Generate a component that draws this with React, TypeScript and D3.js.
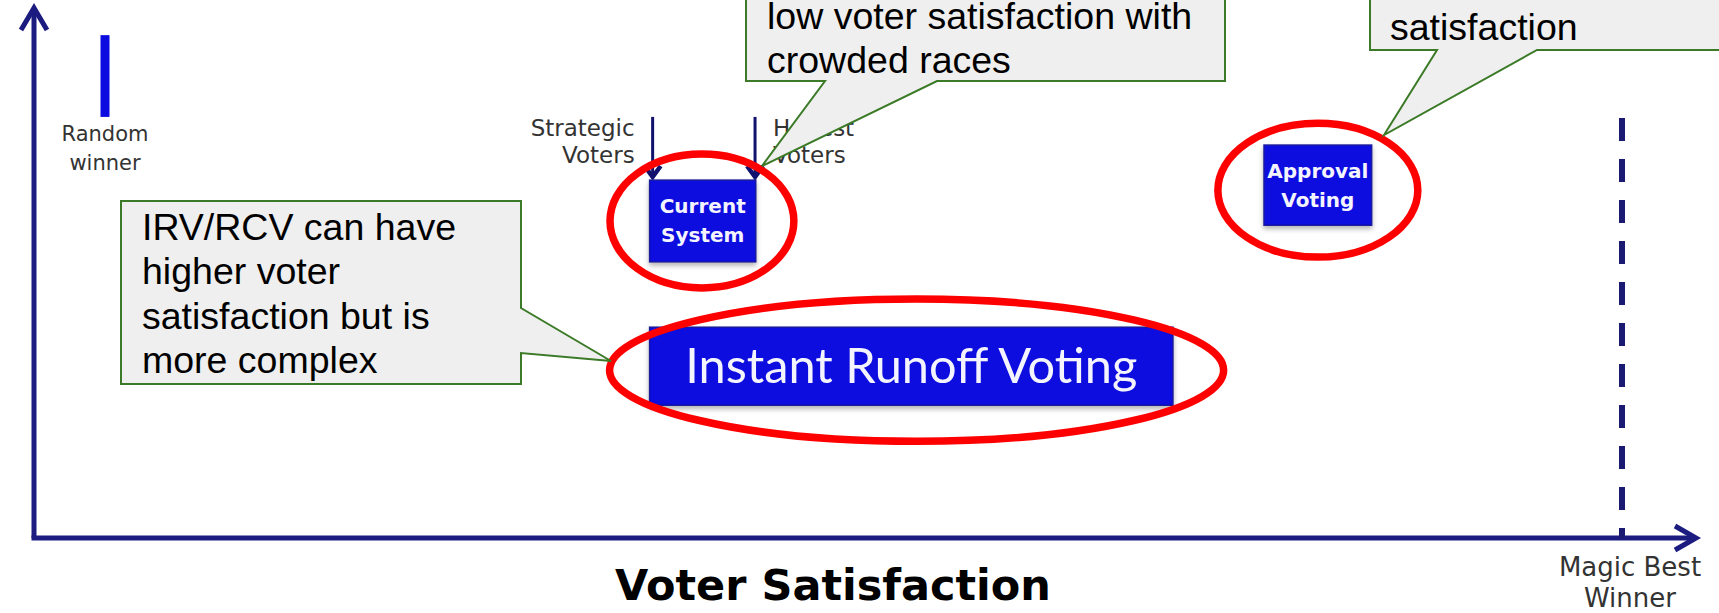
import React from "react";
import * as d3 from "d3";

// ---- data (satisfaction 0 = random winner, 100 = magic best winner; height 0..100) ----
const systemNames = ["Current System", "Instant Runoff Voting", "Approval Voting"];
const systemLabels = [["Current", "System"], ["Instant Runoff Voting"], ["Approval", "Voting"]];
const satLow = [35.9, 35.9, 76.4];
const satHigh = [42.9, 70.4, 83.5];
const rowTop = [67.4, 39.7, 74.0];
const rowBottom = [52.0, 25.0, 58.9];

const circleCx = [39.35, 53.5, 79.95];
const circleRx = [6.06, 20.24, 6.59];
const circleCy = [59.7, 31.6, 65.5];
const circleRy = [12.6, 13.4, 12.6];

const randomWinnerSat = 0;
const randomWinnerSpan = [94.7, 79.3];
const magicBestSat = 100;
const magicBestTop = 79.1;

const voterArrowLabels = [["Strategic", "Voters"], ["Honest", "Voters"]];
const voterArrowSat = [36.1, 42.85];
const voterArrowSpan = [79.3, 67.8];

const calloutText = [
  ["low voter satisfaction with", "crowded races"],
  ["satisfaction"],
  ["IRV/RCV can have", "higher voter", "satisfaction but is", "more complex"],
];

const W = 1719;
const H = 613;

export default function App() {
  const x = d3.scaleLinear().domain([0, 100]).range([105, 1622]);
  const y = d3.scaleLinear().domain([0, 100]).range([538, 7]);

  const navy = "#1b1b80";
  const boxBlue = "#0808e0";
  const red = "#ff0000";
  const green = "#3b7a26";
  const calloutFill = "#efefef";
  const labelFont = "'DejaVu Sans', Verdana, sans-serif";
  const calloutFont = "'Liberation Sans', Arial, sans-serif";

  const axisX0 = 34;
  const axisY0 = y(0);

  // callout shapes (annotation layout)
  const bottomCallout = (x0: number, y0: number, x1: number, y1: number, bx0: number, bx1: number, tx: number, ty: number) =>
    `M${x0},${y0}H${x1}V${y1}H${bx1}L${tx},${ty}L${bx0},${y1}H${x0}Z`;
  const rightCallout = (x0: number, y0: number, x1: number, y1: number, by0: number, by1: number, tx: number, ty: number) =>
    `M${x0},${y0}H${x1}V${by0}L${tx},${ty}L${x1},${by1}V${y1}H${x0}Z`;

  const callouts = [
    { d: bottomCallout(746, -20, 1225, 81, 825, 937, 762, 166), tx: 767, base: 29 },
    { d: bottomCallout(1370, -20, 1740, 50, 1437, 1537, 1384, 135), tx: 1390, base: 40 },
    { d: rightCallout(121, 201, 521, 384, 308, 353, 611, 361), tx: 142, base: 240 },
  ];

  return (
    <svg
      width={W}
      height={H}
      viewBox={`0 0 ${W} ${H}`}
      style={{ position: "absolute", left: 0, top: 0, background: "#fff" }}
    >
      <defs>
        <filter id="shadow" x="-10%" y="-20%" width="120%" height="150%">
          <feDropShadow dx="0" dy="3" stdDeviation="2.5" floodColor="#777" floodOpacity="0.55" />
        </filter>
      </defs>
      <rect x={0} y={0} width={W} height={H} fill="#fff" />

      {/* axes */}
      <line x1={axisX0} y1={axisY0} x2={axisX0} y2={8} stroke={navy} strokeWidth={5} />
      <polyline points={`21,30 ${axisX0},8 47,30`} fill="none" stroke={navy} strokeWidth={5} strokeLinejoin="miter" />
      <line x1={axisX0 - 2.5} y1={axisY0} x2={1695} y2={axisY0} stroke={navy} strokeWidth={5} />
      <polyline points={`1675,526 1696,${axisY0} 1675,550`} fill="none" stroke={navy} strokeWidth={5} />

      {/* magic best winner dashed line */}
      <line
        x1={x(magicBestSat)}
        x2={x(magicBestSat)}
        y1={y(magicBestTop)}
        y2={axisY0}
        stroke="#1a1a72"
        strokeWidth={6}
        strokeDasharray="23 18"
      />

      {/* random winner bar */}
      <line
        x1={x(randomWinnerSat)}
        x2={x(randomWinnerSat)}
        y1={y(randomWinnerSpan[0])}
        y2={y(randomWinnerSpan[1])}
        stroke="#0c0ce0"
        strokeWidth={9}
      />
      <text x={x(randomWinnerSat)} y={141} textAnchor="middle" fontFamily={labelFont} fontSize={21} fill="#333">
        Random
      </text>
      <text x={x(randomWinnerSat)} y={170} textAnchor="middle" fontFamily={labelFont} fontSize={21} fill="#333">
        winner
      </text>

      {/* voter arrows + labels */}
      {voterArrowSat.map((s, i) => {
        const ax = x(s);
        const y0 = y(voterArrowSpan[0]);
        const y1 = y(voterArrowSpan[1]);
        const left = i === 0;
        return (
          <g key={"va" + i}>
            <line x1={ax} x2={ax} y1={y0} y2={y1 - 2} stroke="#12126e" strokeWidth={3} />
            <polyline
              points={`${ax - 8},${y1 - 12} ${ax},${y1 - 1} ${ax + 8},${y1 - 12}`}
              fill="none"
              stroke="#12126e"
              strokeWidth={4.5}
            />
            {voterArrowLabels[i].map((t, j) => (
              <text
                key={j}
                x={left ? ax - 18 : ax + 18}
                y={136 + j * 27}
                textAnchor={left ? "end" : "start"}
                fontFamily={labelFont}
                fontSize={23}
                fill="#333"
              >
                {t}
              </text>
            ))}
          </g>
        );
      })}

      {/* voting system boxes */}
      {systemNames.map((name, i) => {
        const bx0 = x(satLow[i]);
        const bx1 = x(satHigh[i]);
        const by0 = y(rowTop[i]);
        const by1 = y(rowBottom[i]);
        const cx = (bx0 + bx1) / 2;
        const cy = (by0 + by1) / 2;
        const lines = systemLabels[i];
        const big = lines.length === 1;
        return (
          <g key={name}>
            <rect
              x={bx0}
              y={by0}
              width={bx1 - bx0}
              height={by1 - by0}
              fill={boxBlue}
              stroke="#1a1aa0"
              strokeWidth={1.5}
              filter="url(#shadow)"
            />
            {big ? (
              <text
                x={cx}
                y={cy + 17}
                textAnchor="middle"
                fontFamily="Lato, 'Open Sans', sans-serif"
                fontSize={49}
                fill="#f4f4ff"
                textLength={452}
                lengthAdjust="spacingAndGlyphs"
              >
                {lines[0]}
              </text>
            ) : (
              lines.map((t, j) => (
                <text
                  key={j}
                  x={cx}
                  y={cy - 14.5 + j * 29}
                  dominantBaseline="central"
                  textAnchor="middle"
                  fontFamily={labelFont}
                  fontWeight="bold"
                  fontSize={20}
                  fill="#f4f4ff"
                >
                  {t}
                </text>
              ))
            )}
          </g>
        );
      })}

      {/* red circles */}
      {circleCx.map((c, i) => (
        <ellipse
          key={"el" + i}
          cx={x(c)}
          cy={y(circleCy[i])}
          rx={x(circleRx[i]) - x(0)}
          ry={y(0) - y(circleRy[i])}
          fill="none"
          stroke={red}
          strokeWidth={7.5}
        />
      ))}

      {/* axis labels */}
      <text x={833} y={600} textAnchor="middle" fontFamily={labelFont} fontWeight="bold" fontSize={43} fill="#000">
        Voter Satisfaction
      </text>
      <text x={1630} y={576} textAnchor="middle" fontFamily={labelFont} fontSize={26} fill="#333">
        Magic Best
      </text>
      <text x={1630} y={607} textAnchor="middle" fontFamily={labelFont} fontSize={26} fill="#333">
        Winner
      </text>

      {/* callouts */}
      {callouts.map((c, i) => (
        <g key={"co" + i}>
          <path d={c.d} fill={calloutFill} stroke={green} strokeWidth={2} strokeLinejoin="miter" />
          {calloutText[i].map((t, j) => (
            <text key={j} x={c.tx} y={c.base + j * 44.3} fontFamily={calloutFont} fontSize={37.5} fill="#000">
              {t}
            </text>
          ))}
        </g>
      ))}
    </svg>
  );
}
